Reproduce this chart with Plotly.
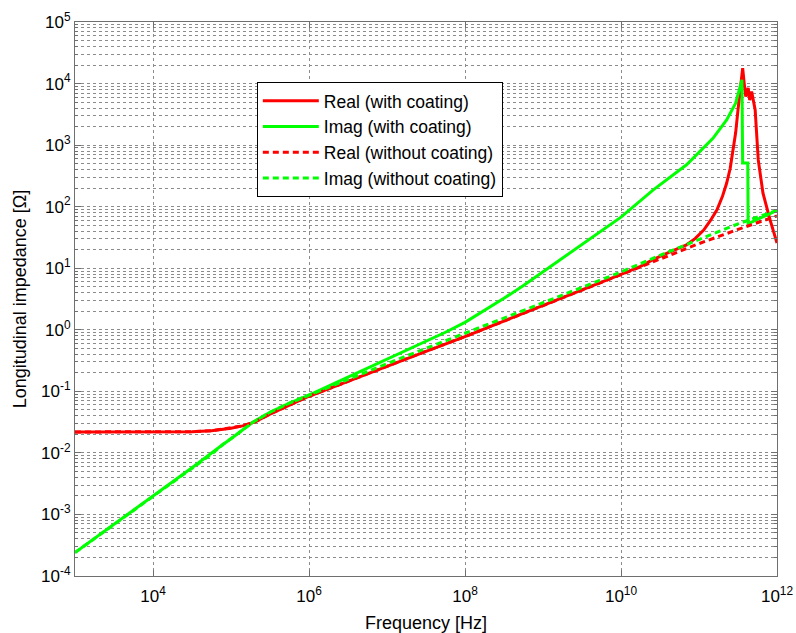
import plotly.graph_objects as go

# ---- data ----
freq_re_coat = [1e3, 1e4, 3.16e4, 5.62e4, 1e5, 1.41e5, 2.0e5, 3.16e5, 5.62e5, 1e6, 3.16e6, 1e7, 3.16e7,
                1e8, 3.16e8, 1e9, 3.16e9, 1e10, 1.78e10, 2.57e10, 3.98e10, 6.92e10, 8.91e10, 1.15e11,
                1.41e11, 1.7e11, 2.0e11, 2.26e11, 2.51e11, 2.75e11, 2.95e11, 3.16e11, 3.39e11,
                3.63e11, 3.8e11, 3.98e11, 4.27e11, 4.47e11, 4.73e11, 5.01e11, 5.25e11, 5.75e11,
                6.61e11, 8.13e11, 1e12]
z_re_coat = [0.0219, 0.0219, 0.0221, 0.0229, 0.0251, 0.0275, 0.0316, 0.0427, 0.0603, 0.0832, 0.145,
             0.257, 0.447, 0.776, 1.38, 2.45, 4.37, 7.94, 10.7, 13.8, 17.8, 24.0, 30.2, 41.7,
             60.3, 89.1, 148, 240, 417, 832, 1585, 3715, 8913,
             17780, 10000, 6166, 8511, 5370, 7413, 4786, 3715, 575,
             166, 61.7, 25.7]

freq_im_coat = [1e3, 3.16e3, 1e4, 3.16e4, 7.94e4, 1e5, 1.86e5, 3.16e5, 5.62e5, 1e6, 3.16e6, 1e7,
                3.16e7, 5.62e7, 1e8, 1.78e8, 3.16e8, 5.62e8, 1e9, 3.16e9, 1e10, 2.57e10, 6.92e10,
                1.51e11, 2.26e11, 2.95e11, 3.39e11, 3.55e11,
                3.63e11, 4.22e11, 4.27e11, 4.57e11, 1e12]
z_im_coat = [2.4e-4, 6.9e-4, 2.0e-3, 5.75e-3, 0.0138, 0.017, 0.0309, 0.0457, 0.0646, 0.087, 0.170,
             0.331, 0.646, 0.912, 1.318, 2.04, 3.24, 5.25, 8.71, 24.5, 67.6, 186, 479,
             1288, 2570, 4786, 10000, 11480,
             513, 513, 47.9, 55, 87]

freq_nc = [1e3, 3.16e3, 1e4, 3.16e4, 5.62e4, 7.94e4, 1e5, 1.41e5, 1.86e5, 2.0e5, 3.16e5, 5.62e5,
           1e6, 3.16e6, 1e7, 3.16e7, 1e8, 3.16e8, 1e9, 3.16e9, 1e10, 3.16e10, 1e11, 3.16e11, 1e12]
z_re_nocoat = [0.0219, 0.0219, 0.0219, 0.0221, 0.0229, 0.0245, 0.0251, 0.0275, 0.0309, 0.0316,
               0.0427, 0.0603, 0.0832, 0.145, 0.257, 0.447, 0.776, 1.38, 2.45, 4.37, 7.94, 13.8,
               25.1, 42.7, 70.8]
z_im_nocoat = [2.4e-4, 6.9e-4, 2.0e-3, 5.75e-3, 0.0095, 0.0138, 0.017, 0.0235, 0.0309, 0.0325,
               0.0457, 0.0646, 0.087, 0.158, 0.282, 0.50, 0.87, 1.55, 2.75, 4.9, 8.7, 16.2,
               29.5, 52.5, 87]

names = ["Real (with coating)", "Imag (with coating)", "Real (without coating)", "Imag (without coating)"]

x_tick_exp = [4, 6, 8, 10, 12]
y_tick_exp = [-4, -3, -2, -1, 0, 1, 2, 3, 4, 5]

FONT = "Liberation Sans, Arial, Helvetica, sans-serif"
GRID = "#8c8c8c"
AX = "#6f6f6f"

fig = go.Figure()
fig.add_trace(go.Scatter(x=freq_re_coat, y=z_re_coat, mode="lines", name=names[0], legendgroup="a",
                         line=dict(color="#ff0000", width=3)))
fig.add_trace(go.Scatter(x=freq_im_coat, y=z_im_coat, mode="lines", name=names[1], legendgroup="b",
                         line=dict(color="#00ff00", width=3)))
fig.add_trace(go.Scatter(x=freq_nc, y=z_re_nocoat, mode="lines", name=names[2], legendgroup="c",
                         line=dict(color="#ff0000", width=3, dash="6px,4px")))
fig.add_trace(go.Scatter(x=freq_nc, y=z_im_nocoat, mode="lines", name=names[3], legendgroup="d",
                         line=dict(color="#00ff00", width=3, dash="6px,4px")))

fig.update_layout(
    width=796, height=633,
    margin=dict(l=75, r=19, t=22, b=57, autoexpand=False),
    paper_bgcolor="white", plot_bgcolor="white",
    font=dict(family=FONT, size=17, color="black"),
    legend=dict(x=0.259, y=0.892, xanchor="left", yanchor="top",
                bgcolor="white", bordercolor="black", borderwidth=1,
                font=dict(size=17.5), tracegroupgap=0, itemwidth=56),
    showlegend=True,
)
fig.update_xaxes(
    type="log", range=[3, 12], automargin=False,
    tickvals=[10 ** e for e in x_tick_exp],
    ticktext=["10<sup>%d</sup>" % e for e in x_tick_exp],
    showline=True, linecolor=AX, linewidth=1, mirror="ticks",
    ticks="inside", ticklen=6, tickcolor=AX, ticklabelstandoff=5,
    showgrid=True, gridcolor=GRID, griddash="dot", gridwidth=1,
    zeroline=False,
    title=dict(text="Frequency [Hz]", font=dict(size=18), standoff=10),
    tickfont=dict(size=17),
)
fig.update_yaxes(
    type="log", range=[-4, 5], automargin=False,
    tickvals=[10.0 ** e for e in y_tick_exp],
    ticktext=["10<sup>%d</sup>" % e for e in y_tick_exp],
    showline=True, linecolor=AX, linewidth=1, mirror="ticks",
    ticks="inside", ticklen=6, tickcolor=AX,
    showgrid=True, gridcolor=GRID, griddash="dot", gridwidth=1,
    minor=dict(dtick="D1", showgrid=True, gridcolor=GRID, griddash="dot", gridwidth=1,
               ticks="inside", ticklen=3, tickcolor=AX),
    zeroline=False,
    title=dict(text="Longitudinal impedance [Ω]", font=dict(size=18), standoff=9),
    tickfont=dict(size=17),
)

fig.write_html("out.html", config={"displayModeBar": False},
               post_script="document.body.style.margin='0';")
